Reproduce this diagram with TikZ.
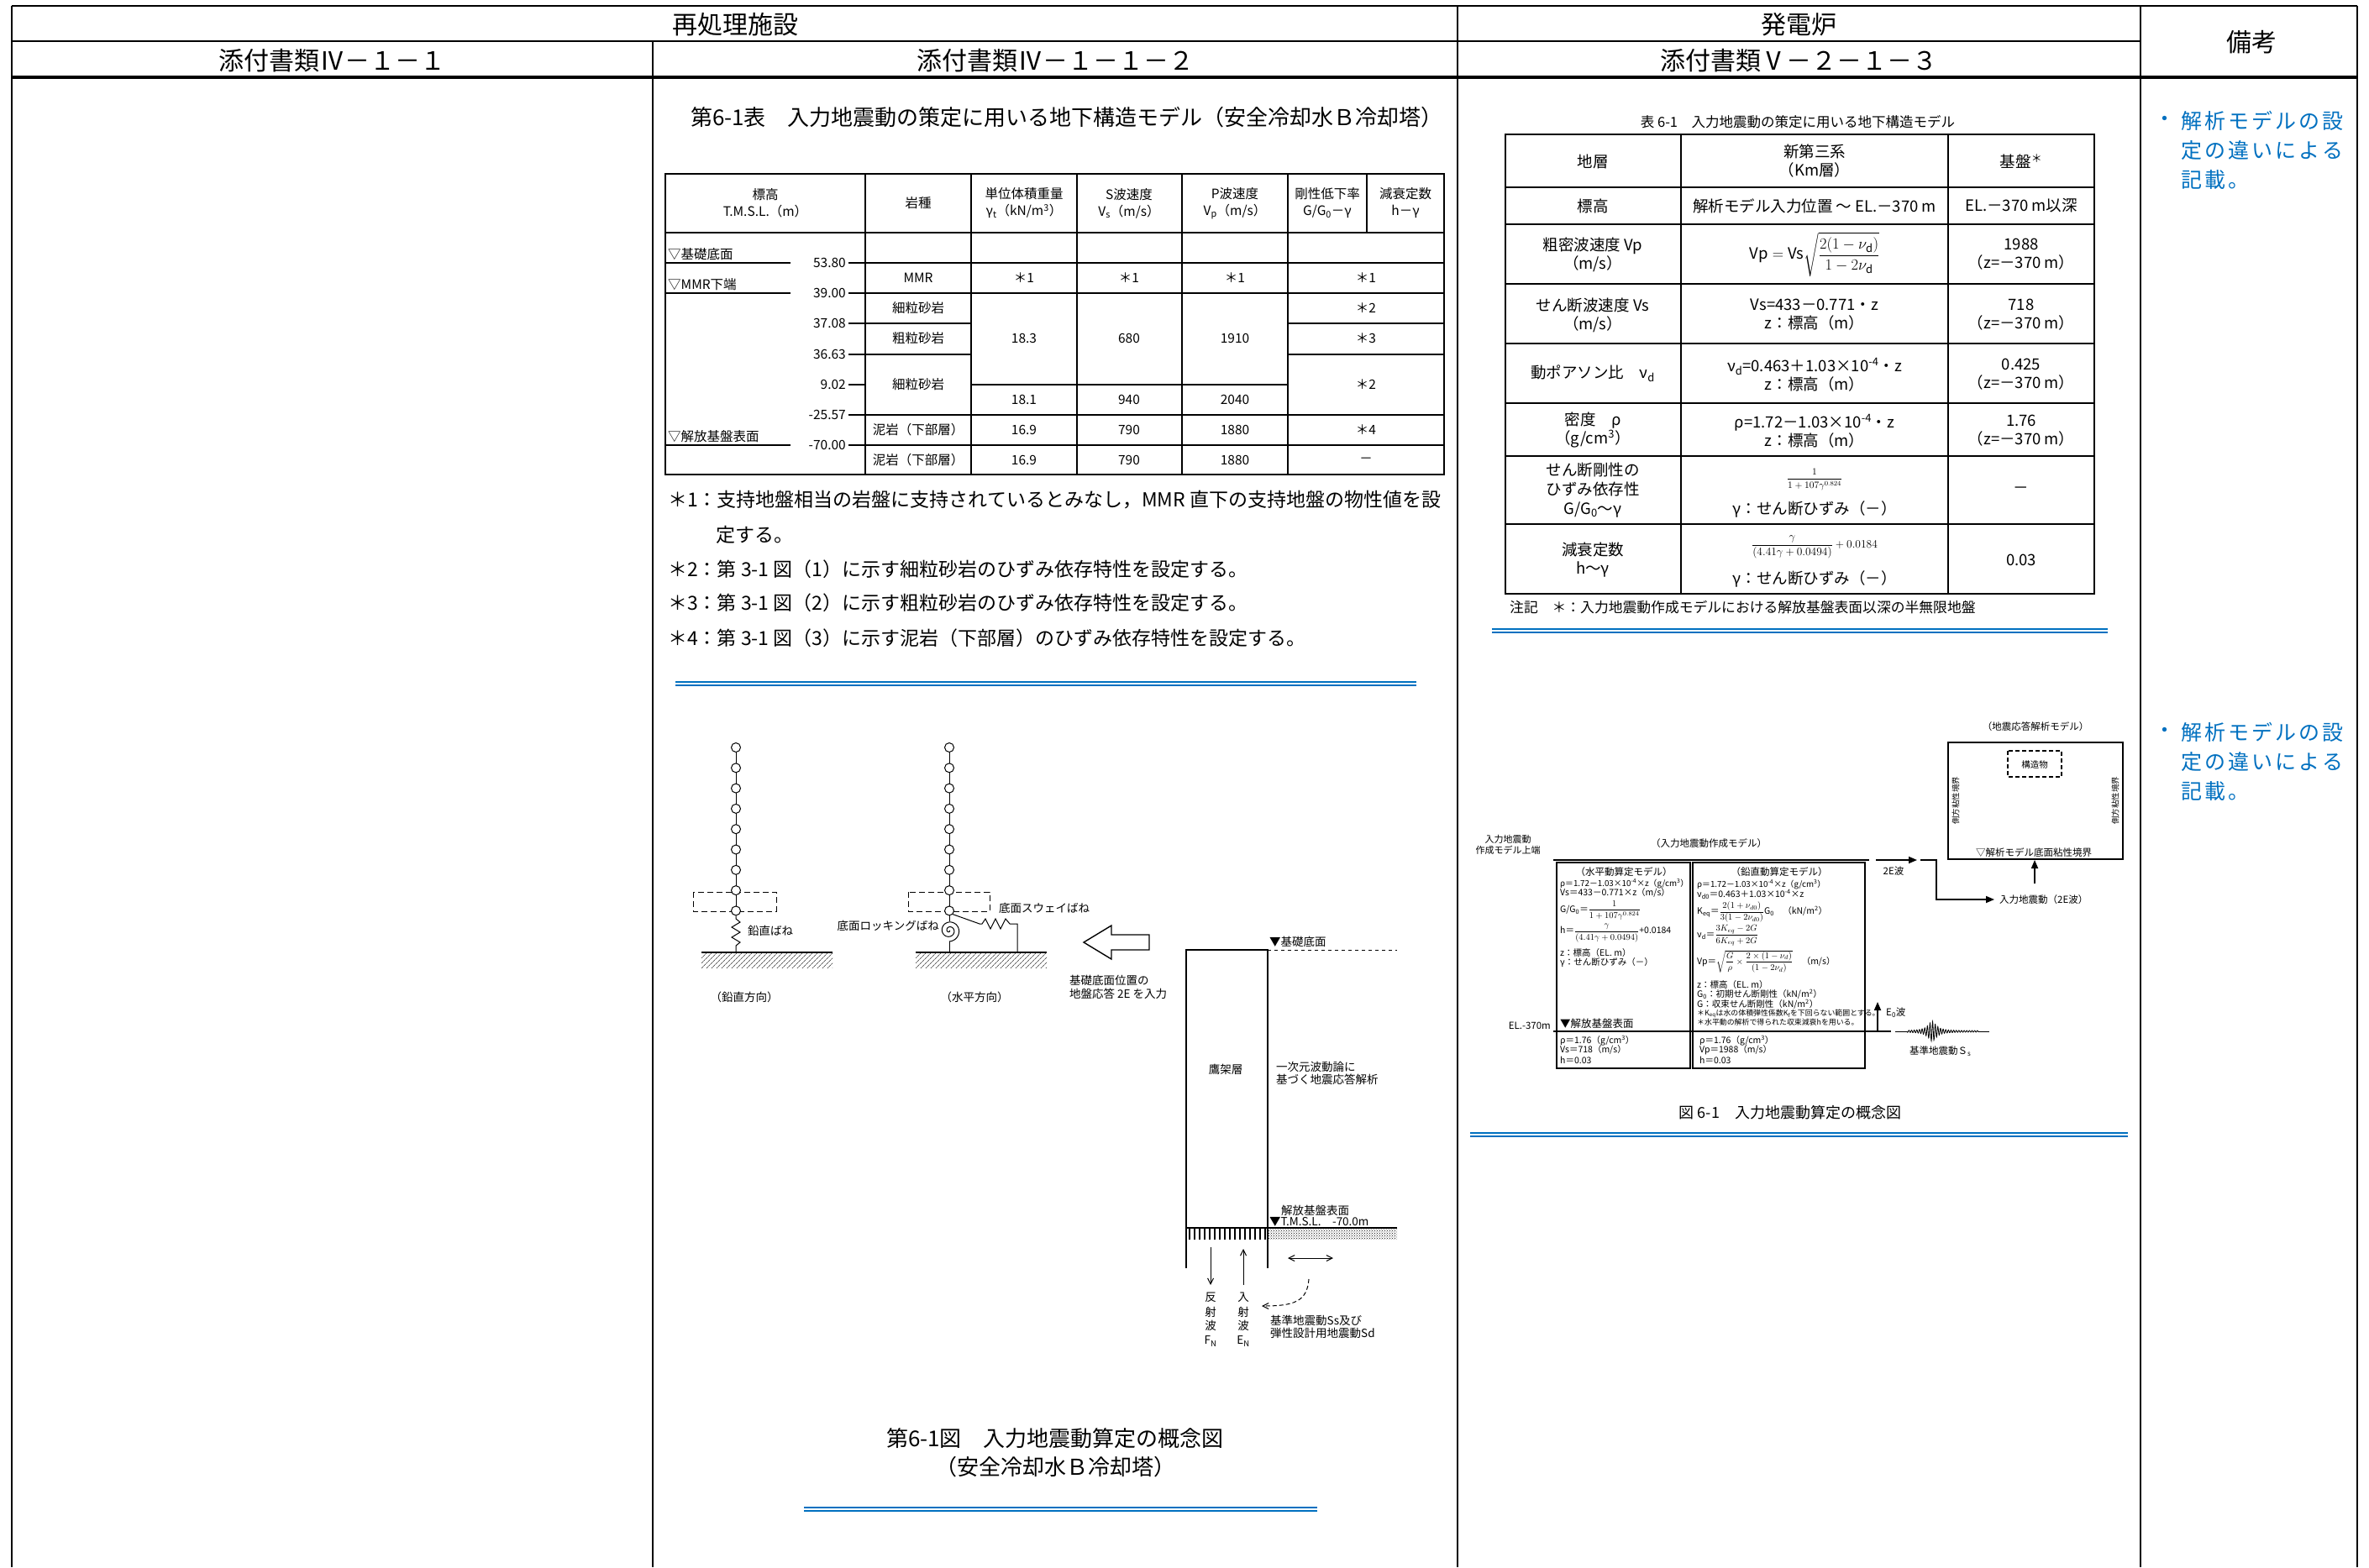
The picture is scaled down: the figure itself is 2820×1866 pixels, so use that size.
\RequirePackage{fix-cm}
\documentclass[tikz,border=0pt]{standalone}
\usepackage{amsmath}
\usepackage{fontspec}
\setmainfont{Noto Sans CJK JP}
\usetikzlibrary{patterns,patterns.meta,arrows.meta}
\definecolor{rblue}{RGB}{0,112,192}
\newcommand{\fsz}[2]{\fontsize{#1}{#2}\selectfont}
\makeatletter
\def\spcline#1{\spc@a#1\relax}
\def\spc@a#1{\ifx\relax#1\else\makebox[28pt][l]{#1}\expandafter\spc@a\fi}
\makeatother
\tikzset{
  fr/.style={line width=2.5pt},
  frb/.style={line width=3.5pt},
  tl/.style={line width=1.7pt},
  bl/.style={rblue,line width=2.2pt},
  fA/.style={font=\fsz{30}{36}},
  fB/.style={font=\fsz{26}{34}},
  fC/.style={font=\fsz{23}{30}},
  fT/.style={font=\fsz{15.5}{20}},
  fR/.style={font=\fsz{18.5}{22}},
  fD/.style={font=\fsz{13.5}{16}},
  fE/.style={font=\fsz{11.5}{13}},
  fF/.style={font=\fsz{10.5}{12}},
  fH/.style={font=\fsz{9.8}{12}},
  fG/.style={font=\fsz{8.9}{10}},
  bead/.style={circle,draw,fill=white,minimum size=11pt,inner sep=0pt,line width=1pt},
  barb/.style={-{Straight Barb[length=7pt,width=7pt]},line width=1pt},
  tri/.style={-{Triangle[length=10pt,width=8pt]},line width=1.6pt},
}
\begin{document}
\begin{tikzpicture}[x=1pt,y=-1pt,every node/.style={inner sep=0pt}]
\useasboundingbox (0,0) rectangle (2820,1866);
\fill[white] (0,0) rectangle (2820,1866);

% ---------------- frame ----------------
\draw[fr] (14,7)--(2806,7);
\draw[fr] (14,49)--(2548,49);
\draw[frb] (14,92)--(2806,92);
\foreach \x in {14,1735,2548,2806} \draw[fr] (\x,7)--(\x,1866);
\draw[fr] (777,49)--(777,1866);
\node[fA] (h1) at (875,29) {再処理施設};
\node[fA] (h2) at (2141,29) {発電炉};
\node[fA] (h3) at (2680,50) {備考};
\node[fA] (h4) at (395,72) {添付書類Ⅳ－１－１};
\node[fA] (h5) at (1256,72) {添付書類Ⅳ－１－１－２};
\node[fA] (h6) at (2141,72) {添付書類Ⅴ－２－１－３};

% ---------------- middle table ----------------
\node[fB] (mt) at (1270,140) {第6-1表　入力地震動の策定に用いる地下構造モデル（安全冷却水Ｂ冷却塔）};
\draw[tl] (792,207) rectangle (1719,565);
\foreach \x in {1030,1156,1282,1407,1533} \draw[tl] (\x,207)--(\x,565);
\draw[tl] (1627,207)--(1627,277);
\draw[tl] (792,277)--(1719,277);
\foreach \y in {313,349,494,530} \draw[tl] (1030,\y)--(1719,\y);
\foreach \y in {385,422} {\draw[tl] (1030,\y)--(1156,\y); \draw[tl] (1533,\y)--(1719,\y);}
\draw[tl] (1156,458)--(1533,458);
\foreach \y in {313,349,530} \draw[tl] (792,\y)--(941,\y);
\foreach \y/\t in {313/53.80,349/39.00,385/37.08,422/36.63,458/9.02,494/-25.57,530/-70.00}
  {\draw[tl] (1010,\y)--(1030,\y); \node[fT,anchor=east] at (1007,\y) {\t};}
\node[fT,anchor=south west] (e1) at (795,310) {▽基礎底面};
\node[fT,anchor=south west] (e2) at (795,346) {▽MMR下端};
\node[fT,anchor=south west] (e3) at (795,527) {▽解放基盤表面};
\node[fT,align=center] (c0) at (911,242) {標高\\T.M.S.L.（m）};
\node[fT] (c1) at (1093,242) {岩種};
\node[fT,align=center] (c2) at (1219,242) {単位体積重量\\γ\textsubscript{t}（kN/m\textsuperscript{3}）};
\node[fT,align=center] (c3) at (1344,242) {S波速度\\V\textsubscript{s}（m/s）};
\node[fT,align=center] (c4) at (1470,242) {P波速度\\V\textsubscript{p}（m/s）};
\node[fT,align=center] (c5) at (1580,242) {剛性低下率\\G/G\textsubscript{0}－γ};
\node[fT,align=center] (c6) at (1673,242) {減衰定数\\h－γ};
\node[fT] (r1a) at (1093,331) {MMR};
\node[fT] (r1b) at (1219,331) {＊1};
\node[fT] (r1c) at (1344,331) {＊1};
\node[fT] (r1d) at (1470,331) {＊1};
\node[fT] (r1e) at (1626,331) {＊1};
\node[fT] (r2a) at (1093,367) {細粒砂岩};
\node[fT] (r3a) at (1093,403) {粗粒砂岩};
\node[fT] (r4a) at (1093,458) {細粒砂岩};
\node[fT] (r2b) at (1219,403) {18.3};
\node[fT] (r2c) at (1344,403) {680};
\node[fT] (r2d) at (1470,403) {1910};
\node[fT] (r5b) at (1219,476) {18.1};
\node[fT] (r5c) at (1344,476) {940};
\node[fT] (r5d) at (1470,476) {2040};
\node[fT] (r2e) at (1626,367) {＊2};
\node[fT] (r3e) at (1626,403) {＊3};
\node[fT] (r4e) at (1626,458) {＊2};
\node[fT] (r6a) at (1093,512) {泥岩（下部層）};
\node[fT] (r6b) at (1219,512) {16.9};
\node[fT] (r6c) at (1344,512) {790};
\node[fT] (r6d) at (1470,512) {1880};
\node[fT] (r6e) at (1626,512) {＊4};
\node[fT] (r7a) at (1093,548) {泥岩（下部層）};
\node[fT] (r7b) at (1219,548) {16.9};
\node[fT] (r7c) at (1344,548) {790};
\node[fT] (r7d) at (1470,548) {1880};
\node[fT] (r7e) at (1626,548) {－};
\node[fC,anchor=west] (n1) at (795,595) {＊1：支持地盤相当の岩盤に支持されているとみなし，MMR 直下の支持地盤の物性値を設};
\node[fC,anchor=west] (n1b) at (852,637) {定する。};
\node[fC,anchor=west] (n2) at (795,678) {＊2：第 3-1 図（1）に示す細粒砂岩のひずみ依存特性を設定する。};
\node[fC,anchor=west] (n3) at (795,718) {＊3：第 3-1 図（2）に示す粗粒砂岩のひずみ依存特性を設定する。};
\node[fC,anchor=west] (n4) at (795,760) {＊4：第 3-1 図（3）に示す泥岩（下部層）のひずみ依存特性を設定する。};
\draw[bl] (804,812)--(1686,812); \draw[bl] (804,816)--(1686,816);

% ---------------- middle diagram ----------------
\draw[line width=1pt] (876,890)--(876,1085);
\draw[line width=1pt] (1130,890)--(1130,1097);
\draw[dashed,dash pattern=on 7pt off 4pt,line width=1pt] (825,1062) rectangle (924,1085);
\draw[dashed,dash pattern=on 7pt off 4pt,line width=1pt] (1081,1062) rectangle (1178,1085);
\foreach \i in {0,...,8} {
  \node[bead] (bl\i) at (876,{890+24.3*\i}) {};
  \node[bead] (br\i) at (1130,{890+24.3*\i}) {};
}
% vertical spring
\draw[line width=1pt] (bl8.south)--(876,1094)--(881,1098)--(871,1104)--(881,1110)--(871,1116)--(881,1122)--(876,1126)--(876,1134);
\node[fD,anchor=west] (vs) at (890,1108) {鉛直ばね};
% ground
\fill[pattern={Lines[angle=45,distance=4pt,line width=0.6pt]}] (835,1134) rectangle (991,1152);
\draw[line width=1.2pt] (835,1134)--(991,1134);
\fill[pattern={Lines[angle=45,distance=4pt,line width=0.6pt]}] (1090,1134) rectangle (1246,1152);
\draw[line width=1.2pt] (1090,1134)--(1246,1134);
% rocking spiral
\draw[line width=1pt] plot[domain=0:810,samples=140] ({1130+0.016*\x*cos(\x)},{1108+0.016*\x*sin(\x)});
\draw[line width=1pt] (1130,1121)--(1130,1134);
% sway spring
\draw[line width=1pt] (br8.south east)--(1166,1100)--(1169,1100)--(1173,1094)--(1179,1106)--(1185,1094)--(1191,1106)--(1197,1094)--(1202,1100)--(1211,1100)--(1211,1134);
\node[fD,anchor=west] (sw) at (1189,1081) {底面スウェイばね};
\node[fD,anchor=east] (rk) at (1118,1102) {底面ロッキングばね};
\node[fD] (dv) at (886,1187) {（鉛直方向）};
\node[fD] (dh) at (1160,1187) {（水平方向）};
% hollow arrow
\draw[line width=1.4pt,fill=white] (1290,1122)--(1323,1102)--(1323,1113)--(1368,1113)--(1368,1131)--(1323,1131)--(1323,1142)--cycle;
\node[fD,anchor=west] (in1) at (1273,1167) {基礎底面位置の};
\node[fD,anchor=west] (in2) at (1273,1183) {地盤応答 2E を入力};
% soil column
\draw[line width=1.2pt] (1412,1510)--(1412,1131)--(1509,1131)--(1509,1510);
\draw[dashed,dash pattern=on 4pt off 4pt,line width=0.8pt] (1509,1131)--(1663,1131);
\node[fD,anchor=west] (kb) at (1511,1121) {▼基礎底面};
\node[fD] (tk) at (1459,1273) {鷹架層};
\node[fD,anchor=west] (ic1) at (1519,1270) {一次元波動論に};
\node[fD,anchor=west] (ic2) at (1519,1285) {基づく地震応答解析};
\node[fD,anchor=west] (kh1) at (1525,1441) {解放基盤表面};
\node[fD,anchor=west] (kh2) at (1511,1455) {▼T.M.S.L.　-70.0m};
\fill[pattern={Lines[angle=90,distance=6pt,line width=1.2pt]}] (1412,1462) rectangle (1509,1475);
\fill[pattern=crosshatch dots] (1509,1462) rectangle (1663,1475);
\draw[line width=1.8pt] (1412,1462)--(1663,1462);
\coordinate (fa1) at (1441,1485); \coordinate (fa2) at (1441,1530);
\coordinate (ea1) at (1480,1530); \coordinate (ea2) at (1480,1487);
\draw[barb] (fa1)--(fa2);
\draw[barb] (ea1)--(ea2);
\node[fD] (f1) at (1441,1545) {反};
\node[fD] (f2) at (1441,1562) {射};
\node[fD] (f3) at (1441,1578) {波};
\node[fD] (f4) at (1441,1597) {F\textsubscript{N}};
\node[fD] (g1) at (1480,1545) {入};
\node[fD] (g2) at (1480,1562) {射};
\node[fD] (g3) at (1480,1578) {波};
\node[fD] (g4) at (1480,1597) {E\textsubscript{N}};
\coordinate (da1) at (1533,1498); \coordinate (da2) at (1587,1498);
\draw[{Straight Barb[length=7pt,width=7pt]}-{Straight Barb[length=7pt,width=7pt]},line width=1pt] (da1)--(da2);
\coordinate (dc1) at (1558,1523); \coordinate (dc2) at (1502,1555);
\draw[barb,dashed,dash pattern=on 5pt off 3pt] (dc1) .. controls (1556,1550) and (1540,1555) .. (dc2);
\node[fD,anchor=west] (ss1) at (1512,1572) {基準地震動Ss及び};
\node[fD,anchor=west] (ss2) at (1512,1587) {弾性設計用地震動Sd};
\node[fB] (cap1) at (1256,1713) {第6-1図　入力地震動算定の概念図};
\node[fB] (cap2) at (1256,1747) {（安全冷却水Ｂ冷却塔）};
\draw[bl] (957,1795)--(1568,1795); \draw[bl] (957,1799)--(1568,1799);

% ---------------- right table ----------------
\node[font=\fsz{16.5}{20}] (rt) at (2140,145) {表 6-1　入力地震動の策定に用いる地下構造モデル};
\draw[tl] (1792,160) rectangle (2493,707);
\draw[tl] (2001,160)--(2001,707);
\draw[tl] (2319,160)--(2319,707);
\foreach \y in {223,267,338,409,480,543,624} \draw[tl] (1792,\y)--(2493,\y);
\node[fR] (a1) at (1896,192) {地層};
\node[fR,align=center] (b1) at (2160,192) {新第三系\\（Km層）};
\node[fR] (d1) at (2406,192) {基盤\textsuperscript{＊}};
\node[fR] (a2) at (1896,245) {標高};
\node[fR] (b2) at (2160,245) {解析モデル入力位置 ～ EL.－370 m};
\node[fR] (d2) at (2406,245) {EL.－370 m以深};
\node[fR,align=center] (a3) at (1896,303) {粗密波速度 Vp\\（m/s）};
\node[fR] (b3) at (2160,303) {$\mathrm{Vp}=\mathrm{Vs}\sqrt{\dfrac{2(1-\nu_{\mathrm{d}})}{1-2\nu_{\mathrm{d}}}}$};
\node[fR,align=center] (d3) at (2406,303) {1988\\（z=－370 m）};
\node[fR,align=center] (a4) at (1896,375) {せん断波速度 Vs\\（m/s）};
\node[fR,align=center] (b4) at (2160,375) {Vs=433－0.771・z\\z：標高（m）};
\node[fR,align=center] (d4) at (2406,375) {718\\（z=－370 m）};
\node[fR] (a5) at (1896,445) {動ポアソン比　ν\textsubscript{d}};
\node[fR,align=center] (b5) at (2160,446) {ν\textsubscript{d}=0.463＋1.03×10\textsuperscript{-4}・z\\z：標高（m）};
\node[fR,align=center] (d5) at (2406,446) {0.425\\（z=－370 m）};
\node[fR,align=center] (a6) at (1896,512) {密度　ρ\\（g/cm\textsuperscript{3}）};
\node[fR,align=center] (b6) at (2160,513) {ρ=1.72－1.03×10\textsuperscript{-4}・z\\z：標高（m）};
\node[fR,align=center] (d6) at (2406,513) {1.76\\（z=－370 m）};
\node[fR,align=center,font=\fsz{18.5}{23}] (a7) at (1896,584) {せん断剛性の\\ひずみ依存性\\G/G\textsubscript{0}～γ};
\node[font=\fsz{11.5}{13}] (b7) at (2160,571) {$\dfrac{1}{1+107\gamma^{0.824}}$};
\node[fR] (b7b) at (2160,606) {γ：せん断ひずみ（－）};
\node[fR] (d7) at (2406,584) {－};
\node[fR,align=center] (a8) at (1896,667) {減衰定数\\h～γ};
\node[font=\fsz{13.5}{15}] (b8) at (2160,651) {$\dfrac{\gamma}{(4.41\gamma+0.0494)}+0.0184$};
\node[fR] (b8b) at (2160,689) {γ：せん断ひずみ（－）};
\node[fR] (d8) at (2406,667) {0.03};
\node[font=\fsz{16.8}{20},anchor=west] (rn) at (1797,723) {注記　＊：入力地震動作成モデルにおける解放基盤表面以深の半無限地盤};
\draw[bl] (1776,749)--(2509,749); \draw[bl] (1776,753)--(2509,753);

% ---------------- right diagram ----------------
\node[align=center,font=\fsz{11}{13}] (im) at (1795,1006) {入力地震動\\作成モデル上端};
\node[fE] (imt) at (2034,1004) {（入力地震動作成モデル）};
\draw[line width=1.6pt] (1849,1024)--(2225,1024);
\draw[line width=1.2pt] (1853,1027) rectangle (2012,1272);
\draw[line width=1.2pt] (2015,1027) rectangle (2220,1272);
\node[fE] (hm) at (1933,1038) {（水平動算定モデル）};
\node[fH,anchor=west] (hl1) at (1857,1052) {ρ＝1.72－1.03×10\textsuperscript{-4}×z（g/cm\textsuperscript{3}）};
\node[fF,anchor=west] (hl2) at (1857,1063) {Vs＝433－0.771×z（m/s）};
\node[fF,anchor=west] (hl3) at (1857,1084) {G/G\textsubscript{0}＝$\dfrac{1}{1+107\gamma^{0.824}}$};
\node[fF,anchor=west] (hl4) at (1857,1111) {h＝$\dfrac{\gamma}{(4.41\gamma+0.0494)}$+0.0184};
\node[fF,anchor=west] (hl5) at (1857,1134) {z：標高（EL. m）};
\node[fF,anchor=west] (hl6) at (1857,1146) {γ：せん断ひずみ（－）};
\node[fE] (vm) at (2118,1038) {（鉛直動算定モデル）};
\node[fH,anchor=west] (vl1) at (2020,1053) {ρ＝1.72－1.03×10\textsuperscript{-4}×z（g/cm\textsuperscript{3}）};
\node[fF,anchor=west] (vl2) at (2020,1065) {ν\textsubscript{d0}＝0.463＋1.03×10\textsuperscript{-4}×z};
\node[fF,anchor=west] (vl3) at (2020,1086) {K\textsubscript{eq}＝$\dfrac{2(1+\nu_{d0})}{3(1-2\nu_{d0})}$G\textsubscript{0}　（kN/m\textsuperscript{2}）};
\node[fF,anchor=west] (vl4) at (2020,1114) {ν\textsubscript{d}＝$\dfrac{3K_{eq}-2G}{6K_{eq}+2G}$};
\node[fF,anchor=west] (vl5) at (2020,1145) {Vp＝$\sqrt{\dfrac{G}{\rho}\times\dfrac{2\times(1-\nu_d)}{(1-2\nu_d)}}$　（m/s）};
\node[fF,anchor=west] (vl6) at (2020,1172) {z：標高（EL. m）};
\node[fF,anchor=west] (vl7) at (2020,1184) {G\textsubscript{0}：初期せん断剛性（kN/m\textsuperscript{2}）};
\node[fF,anchor=west] (vl8) at (2020,1196) {G：収束せん断剛性（kN/m\textsuperscript{2}）};
\node[fG,anchor=west] (vl9) at (2020,1207) {＊K\textsubscript{eq}は水の体積弾性係数K\textsubscript{f}を下回らない範囲とする。};
\node[fG,anchor=west] (vl10) at (2020,1217) {＊水平動の解析で得られた収束減衰hを用いる。};
\node[fE,anchor=east] (el) at (1846,1221) {EL.-370m};
\node[font=\fsz{12.5}{14},anchor=west] (kbs) at (1857,1219) {▼解放基盤表面};
\draw[line width=2pt] (1849,1228)--(2251,1228);
\node[fF,anchor=west] (hb1) at (1857,1239) {ρ＝1.76（g/cm\textsuperscript{3}）};
\node[fF,anchor=west] (hb2) at (1857,1250) {Vs＝718（m/s）};
\node[fF,anchor=west] (hb3) at (1857,1262) {h＝0.03};
\node[fF,anchor=west] (vb1) at (2023,1239) {ρ＝1.76（g/cm\textsuperscript{3}）};
\node[fF,anchor=west] (vb2) at (2023,1250) {Vp＝1988（m/s）};
\node[fF,anchor=west] (vb3) at (2023,1262) {h＝0.03};
\coordinate (e0a) at (2235,1228); \coordinate (e0b) at (2235,1193);
\draw[tri] (e0a)--(e0b);
\node[fE,anchor=west] (e0) at (2245,1206) {E\textsubscript{0}波};
\coordinate (w2a) at (2233,1024); \coordinate (w2b) at (2282,1024);
\draw[tri] (w2a)--(w2b);
\node[fE] (w2) at (2254,1037) {2E波};
\coordinate (pa) at (2286,1024); \coordinate (pb) at (2374,1071);
\draw[tri] (pa)--(2305,1024)--(2305,1071)--(pb);
\node[fE,anchor=west] (inp) at (2380,1071) {入力地震動（2E波）};
\draw[line width=1.6pt] (2319,884) rectangle (2527,1023);
\node[fE] (sam) at (2423,865) {（地震応答解析モデル）};
\draw[line width=1.6pt,dashed,dash pattern=on 5pt off 3pt] (2390,894) rectangle (2454,925);
\node[font=\fsz{10.5}{12}] (str) at (2422,910) {構造物};
\node[font=\fsz{9.5}{11},rotate=90] (sl) at (2328,953) {側方粘性境界};
\node[font=\fsz{9.5}{11},rotate=90] (sr) at (2518,953) {側方粘性境界};
\node[fE,anchor=west] (bt) at (2352,1015) {▽解析モデル底面粘性境界};
\coordinate (ua) at (2422,1052); \coordinate (ub) at (2422,1024);
\draw[tri] (ua)--(ub);
% seismic wave
\draw[line width=0.8pt] (2256,1228)--(2270,1228);
\draw[line width=0.8pt] plot[domain=0:85,samples=341] ({2270+\x},{1228+(0.8+11/(1+((\x-30)/6)^2))*sin(\x*115)});
\draw[line width=0.8pt] (2355,1228)--(2368,1228);
\node[fE,anchor=west] (ssl) at (2273,1252) {基準地震動Ｓ\textsubscript{s}};
\node[font=\fsz{18}{20}] (rc) at (2131,1325) {図 6-1　入力地震動算定の概念図};
\draw[bl] (1750,1349)--(2533,1349); \draw[bl] (1750,1353)--(2533,1353);

% ---------------- remarks ----------------
\begin{scope}[every node/.append style={text=rblue,font=\fsz{25}{30}}]
\node (m1) at (2577,144) {・};
\node[anchor=west] (m2) at (2596,144) {\spcline{解析モデルの設}};
\node[anchor=west] (m3) at (2596,179) {\spcline{定の違いによる}};
\node[anchor=west] (m4) at (2596,214) {\spcline{記載。}};
\node (m5) at (2577,872) {・};
\node[anchor=west] (m6) at (2596,872) {\spcline{解析モデルの設}};
\node[anchor=west] (m7) at (2596,907) {\spcline{定の違いによる}};
\node[anchor=west] (m8) at (2596,942) {\spcline{記載。}};
\end{scope}
\end{tikzpicture}
\end{document}
